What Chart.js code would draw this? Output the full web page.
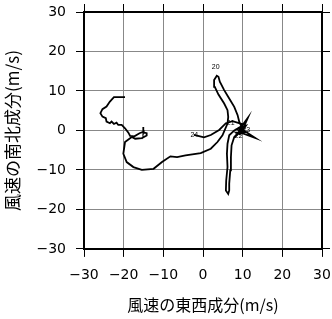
<!DOCTYPE html>
<html>
<head>
<meta charset="utf-8">
<script src="https://cdn.jsdelivr.net/npm/chart.js@4"></script>
<style>
    html, body { margin: 0; padding: 0; background: #fff; }
    #wrap { width: 332px; height: 319px; }
</style>
</head>
<body>
<div id="wrap"><canvas id="HodoChart"></canvas></div>
<script>
// wind components (m/s): east-west (u) and north-south (v), in time order
var windU = [
    -19.66, -22.45, -23.47, -24.32, -25.35, -25.86, -25.35, -24.5, -24.32, -23.47,
    -23.05, -22.45, -21.79, -21.36, -20.5, -19.66, -18.81, -18.38,
    -17.3, -16.0, -15.0, -15.0, -15.1, -14.2, -14.2, -15.4, -17.1, -17.97,
    -19.66, -20.08, -19.24, -17.54, -15.43, -12.46, -10.34, -8.21, -6.53, -4.4,
    -0.58, 1.96, 3.64, 4.91, 6.18, 6.36, 6.18, 5.34, 3.9, 2.97, 2.8, 3.48,
    3.9, 4.24, 5.34, 6.61, 7.88, 8.73, 9.15,
    9.7, 11.3, 10.0, 13.2, 9.6, 8.6, 10.8, 9.3, 8.4, 10.6, 9.4, 7.9,
    6.61, 6.18, 6.03, 6.18, 5.85, 5.77, 6.36, 6.61, 6.61, 6.87, 7.04, 7.2, 7.88,
    9.15, 10.2, 8.8, 9.9, 7.45, 5.77, 4.07, 1.96, 0.26, -2.29
];
var windV = [
    8.44, 8.44, 7.32, 6.05, 5.39, 4.37, 3.51, 3.1, 2.24, 1.83,
    2.24, 1.65, 1.98, 1.4, 1.4, 0.56, -0.56, -1.4,
    -1.5, -0.7, -0.3, 0.85, -0.5, -0.7, -1.3, -1.95, -2.1, -1.65,
    -2.93, -5.9, -8.01, -9.28, -9.97, -9.71, -8.01, -6.56, -6.74, -6.31,
    -5.72, -4.63, -2.93, -1.23, 1.74, 3.43, 5.13, 6.81, 9.1, 11.06, 12.76, 13.86,
    13.6, 12.33, 10.22, 8.08, 5.97, 3.86, 2.16,
    1.0, 3.2, 0.2, -1.9, -0.6, 0.4, 1.2, -1.0, -0.5, -0.4, 0.9, 0.0,
    -1.23, -3.36, -5.9, -9.28, -12.67, -15.2, -16.07, -15.2, -13.5, -10.1, -6.74, -3.77, -1.66,
    -0.38, 0.5, -0.9, 1.6, 2.33, 1.83, 0.13, -1.15, -1.74, -1.15
];

// hour marks along the track
var hourText = ["20", "21", "22", "23", "24"];
var hourU = [3.2, 7.0, 9.0, 10.9, -2.2];
var hourV = [16.1, 1.8, -1.4, 0.0, -1.2];

var tickValues = [-30, -20, -10, 0, 10, 20, 30];

var points = windU.map(function (u, i) { return { x: u, y: windV[i] }; });

function minusSign(v) {
    return String(v).replace("-", "\u2212");
}

function setTicks(scale) {
    scale.ticks = tickValues.map(function (v) { return { value: v }; });
}

// end labels may hang over the frame, so the frame is placed by layout padding only
function noOverhang(scale) {
    scale.paddingLeft = 0;
    scale.paddingRight = 0;
    scale.paddingTop = 0;
    scale.paddingBottom = 0;
}

var hourLabels = {
    id: "hourLabels",
    afterDatasetsDraw: function (chart) {
        var ctx = chart.ctx;
        var sx = chart.scales.x, sy = chart.scales.y;
        ctx.save();
        ctx.fillStyle = "#000";
        ctx.font = "7px 'Liberation Sans'";
        ctx.textAlign = "center";
        ctx.textBaseline = "middle";
        hourText.forEach(function (t, i) {
            ctx.fillText(t, sx.getPixelForValue(hourU[i]), sy.getPixelForValue(hourV[i]));
        });
        ctx.restore();
    }
};

var tickFont = { family: "'DejaVu Sans', sans-serif", size: 14, lineHeight: 1.2 };

function sideAxis(position) {
    return {
        type: "linear",
        position: position,
        min: -30,
        max: 30,
        afterBuildTicks: setTicks,
        afterFit: noOverhang,
        ticks: { display: false },
        grid: { drawOnChartArea: false, tickLength: 8, tickColor: "#000", tickWidth: 1 },
        border: { display: true, color: "#000", width: 2 }
    };
}

new Chart("HodoChart", {
    type: "scatter",
    data: {
        datasets: [{
            data: points,
            showLine: true,
            borderColor: "#000",
            borderWidth: 1.8,
            pointRadius: 0,
            tension: 0,
            xAxisID: "x",
            yAxisID: "y"
        }]
    },
    options: {
        responsive: true,
        maintainAspectRatio: false,
        animation: false,
        layout: { padding: { top: 4, right: 2, left: 2, bottom: 0 } },
        plugins: { legend: { display: false }, tooltip: { enabled: false } },
        scales: {
            x: {
                type: "linear",
                position: "bottom",
                min: -30,
                max: 30,
                afterBuildTicks: setTicks,
                afterFit: noOverhang,
                ticks: { color: "#000", font: tickFont, padding: 9.6, callback: minusSign, maxRotation: 0 },
                grid: { color: "#888", lineWidth: 1, tickLength: 8, tickColor: "#000", tickWidth: 1 },
                border: { color: "#000", width: 2 },
                title: {
                    display: true, text: "風速の東西成分(m/s)", color: "#000",
                    font: { family: "'Noto Sans CJK JP', sans-serif", size: 16, lineHeight: 1.2 },
                    padding: { top: 2.5, bottom: 4.4 }
                }
            },
            y: {
                type: "linear",
                position: "left",
                min: -30,
                max: 30,
                afterBuildTicks: setTicks,
                afterFit: noOverhang,
                ticks: { color: "#000", font: tickFont, padding: 10, callback: minusSign },
                grid: { color: "#888", lineWidth: 1, tickLength: 8, tickColor: "#000", tickWidth: 1 },
                border: { color: "#000", width: 2 },
                title: {
                    display: true, text: "風速の南北成分(m/s)", color: "#000",
                    font: { family: "'Noto Sans CJK JP', sans-serif", size: 17, lineHeight: 1.2 },
                    padding: { top: 0, bottom: 21.5 }
                }
            },
            x2: sideAxis("top"),
            y2: sideAxis("right")
        }
    },
    plugins: [hourLabels]
});
</script>
</body>
</html>
